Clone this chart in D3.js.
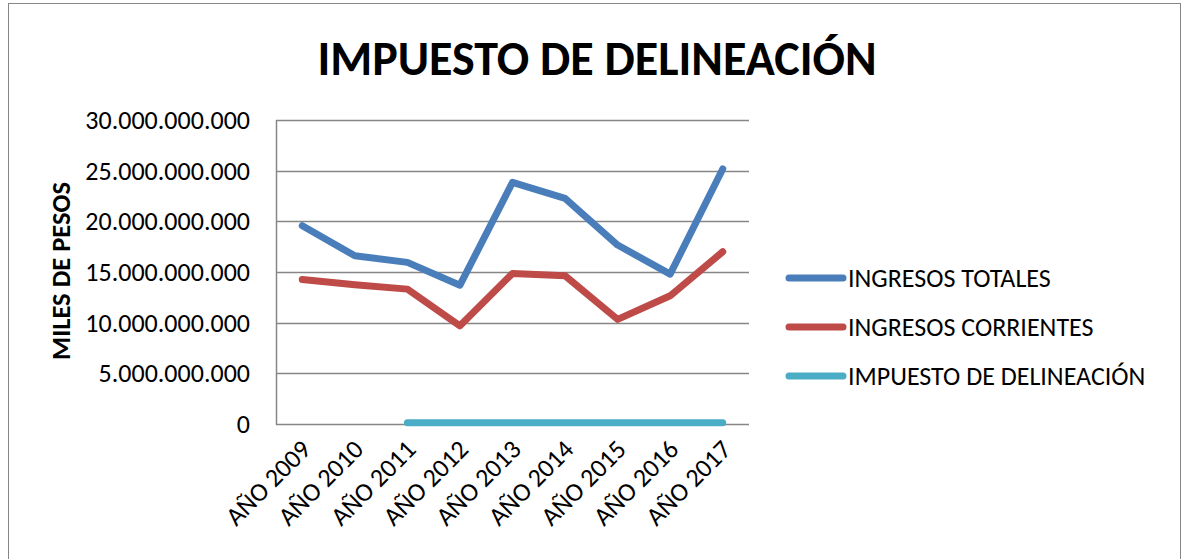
<!DOCTYPE html>
<html>
<head>
<meta charset="utf-8">
<script src="https://cdn.jsdelivr.net/npm/d3@7"></script>
<style>
  html, body { margin: 0; padding: 0; background: #fff; }
  svg { display: block; font-family: Carlito, Lato, "Noto Sans", sans-serif; }
</style>
</head>
<body>
<svg id="chart" width="1188" height="559"></svg>
<script>
// categories and series (values in miles de pesos)
const years = ['AÑO 2009', 'AÑO 2010', 'AÑO 2011', 'AÑO 2012', 'AÑO 2013', 'AÑO 2014', 'AÑO 2015', 'AÑO 2016', 'AÑO 2017']
const ingresosTotales = [19.56e9, 16.6e9, 15.95e9, 13.7e9, 23.85e9, 22.27e9, 17.66e9, 14.79e9, 25.17e9]
const ingresosCorrientes = [14.27e9, 13.74e9, 13.31e9, 9.69e9, 14.86e9, 14.63e9, 10.32e9, 12.65e9, 17.0e9]
const impuestoDelineacion = [null, null, 0.12e9, 0.12e9, 0.12e9, 0.12e9, 0.12e9, 0.12e9, 0.12e9]
const yTicks = [0, 5e9, 10e9, 15e9, 20e9, 25e9, 30e9]

const seriesNames = ['INGRESOS TOTALES', 'INGRESOS CORRIENTES', 'IMPUESTO DE DELINEACIÓN']
const seriesColors = ['#4A7EBB', '#BE4B48', '#4BACC6']
const seriesValues = [ingresosTotales, ingresosCorrientes, impuestoDelineacion]

const svg = d3.select('#chart')
const plot = { left: 276, right: 749, top: 120, bottom: 424 }

// outer chart border
svg.append('rect')
  .attr('x', 8.5).attr('y', 3.5)
  .attr('width', 1172).attr('height', 570)
  .attr('fill', 'none').attr('stroke', '#868686').attr('stroke-width', 1)

// title
svg.append('text')
  .attr('x', 597).attr('y', 75)
  .attr('text-anchor', 'middle')
  .attr('font-size', 48).attr('font-weight', 'bold')
  .attr('fill', '#000')
  .text('IMPUESTO DE DELINEACIÓN')

const x = d3.scalePoint().domain(years).range([plot.left, plot.right]).padding(0.5)
const y = d3.scaleLinear().domain([0, 30e9]).range([plot.bottom, plot.top])

const locale = d3.formatLocale({ decimal: ',', thousands: '.', grouping: [3], currency: ['$', ''] })
const fmt = locale.format(',')

// gridlines
svg.append('g')
  .selectAll('line')
  .data(yTicks)
  .join('line')
  .attr('x1', plot.left).attr('x2', plot.right)
  .attr('y1', d => Math.round(y(d)) + 0.5).attr('y2', d => Math.round(y(d)) + 0.5)
  .attr('stroke', '#868686').attr('stroke-width', 1.5)

// y axis line
svg.append('line')
  .attr('x1', plot.left + 0.5).attr('x2', plot.left + 0.5)
  .attr('y1', plot.top).attr('y2', plot.bottom + 1)
  .attr('stroke', '#868686').attr('stroke-width', 1.5)

// y tick labels
svg.append('g')
  .selectAll('text')
  .data(yTicks)
  .join('text')
  .attr('x', 250).attr('y', d => y(d))
  .attr('dy', '0.35em')
  .attr('text-anchor', 'end')
  .attr('font-size', 26)
  .attr('fill', '#000')
  .text(d => fmt(d))

// y axis title
svg.append('text')
  .attr('transform', 'translate(70,271) rotate(-90)')
  .attr('text-anchor', 'middle')
  .attr('font-size', 26.5).attr('font-weight', 'bold')
  .attr('fill', '#000')
  .text('MILES DE PESOS')

// x tick labels
svg.append('g')
  .selectAll('text')
  .data(years)
  .join('text')
  .attr('transform', d => `translate(${x(d) + 10},${plot.bottom + 27}) rotate(-45)`)
  .attr('text-anchor', 'end')
  .attr('font-size', 26)
  .attr('fill', '#000')
  .text(d => d)

// lines
const line = d3.line()
  .defined(d => d.v !== null)
  .x(d => x(d.year))
  .y(d => y(d.v))

seriesValues.forEach((vals, i) => {
  svg.append('path')
    .datum(years.map((yr, j) => ({ year: yr, v: vals[j] })))
    .attr('d', line)
    .attr('fill', 'none')
    .attr('stroke', seriesColors[i])
    .attr('stroke-width', 7)
    .attr('stroke-linejoin', 'round')
    .attr('stroke-linecap', 'round')
})

// legend
const legend = svg.append('g')
seriesNames.forEach((name, i) => {
  const ly = 278 + i * 49
  legend.append('line')
    .attr('x1', 789).attr('x2', 843)
    .attr('y1', ly).attr('y2', ly)
    .attr('stroke', seriesColors[i])
    .attr('stroke-width', 7)
    .attr('stroke-linecap', 'round')
  legend.append('text')
    .attr('x', 848).attr('y', ly)
    .attr('dy', '0.35em')
    .attr('font-size', 26)
    .attr('fill', '#000')
    .text(name)
})
</script>
</body>
</html>
